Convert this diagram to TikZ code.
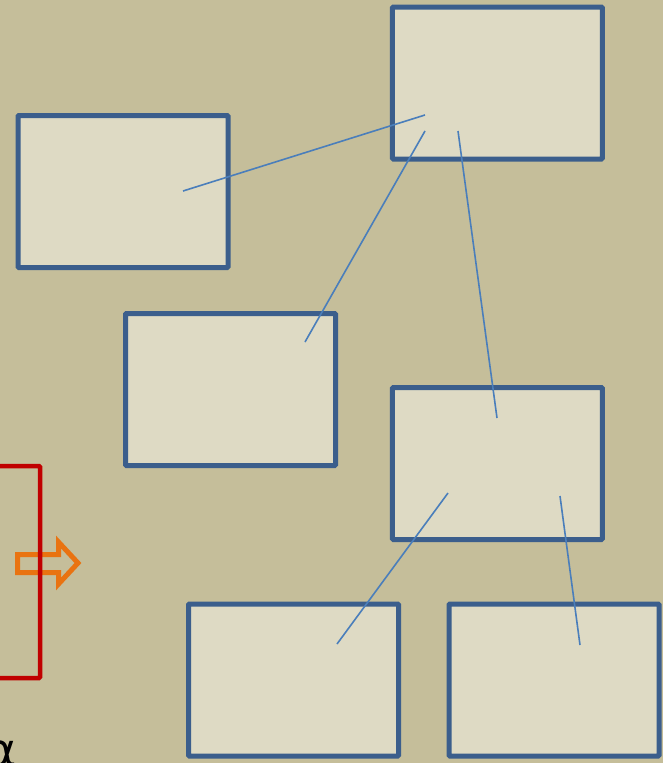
\documentclass[tikz,border=0pt]{standalone}
\usepackage{fontspec}
\newfontfamily\symfont{DejaVu Sans}
\definecolor{bgc}{RGB}{197,190,154}
\definecolor{boxfill}{RGB}{222,218,196}
\definecolor{boxline}{RGB}{59,94,140}
\definecolor{linkc}{RGB}{74,126,187}
\definecolor{redc}{RGB}{192,0,0}
\definecolor{orangec}{RGB}{233,115,17}
\tikzset{
  card/.style={draw=boxline, fill=boxfill, line width=5pt, inner sep=0pt,
    minimum width=210pt, minimum height=152pt, rounded corners=1pt},
  link/.style={draw=linkc, line width=1.6pt},
}
\begin{document}
\begin{tikzpicture}[x=1pt,y=-1pt]
\useasboundingbox (0,0) rectangle (663,763);
\fill[bgc] (0,0) rectangle (663,763);
% boxes
\node[card] (A) at (497.3,83) {};
\node[card] (B) at (123,191.5) {};
\node[card] (C) at (230.5,389.5) {};
\node[card] (D) at (497.3,463.5) {};
\node[card] (E) at (293.5,680) {};
\node[card] (F) at (554,680) {};
% connector end points
\coordinate (b1) at (183,191);
\coordinate (a1) at (425,115);
\coordinate (c1) at (305,342);
\coordinate (a2) at (425,131);
\coordinate (a3) at (458,131);
\coordinate (d1) at (497,418);
\coordinate (d2) at (448,493);
\coordinate (e1) at (337,644);
\coordinate (d3) at (560,496);
\coordinate (f1) at (580,645);
\draw[link] (b1) -- (a1);
\draw[link] (c1) -- (a2);
\draw[link] (a3) -- (d1);
\draw[link] (d2) -- (e1);
\draw[link] (d3) -- (f1);
% orange block arrow
\draw[orangec, line width=5pt, miter limit=10]
  (17.5,554.5) -- (58.5,554.5) -- (58.5,542) -- (78,563) -- (58.5,584)
  -- (58.5,572.5) -- (17.5,572.5) -- cycle;
% red bracket
\draw[redc, line width=4.5pt, rounded corners=1pt]
  (-5,466) -- (40,466) -- (40,678) -- (-5,678);
% alpha
\node[anchor=base west, inner sep=0pt, font=\symfont\fontsize{46}{46}\selectfont] (alpha) at (-14,766) {α};
\end{tikzpicture}
\end{document}
